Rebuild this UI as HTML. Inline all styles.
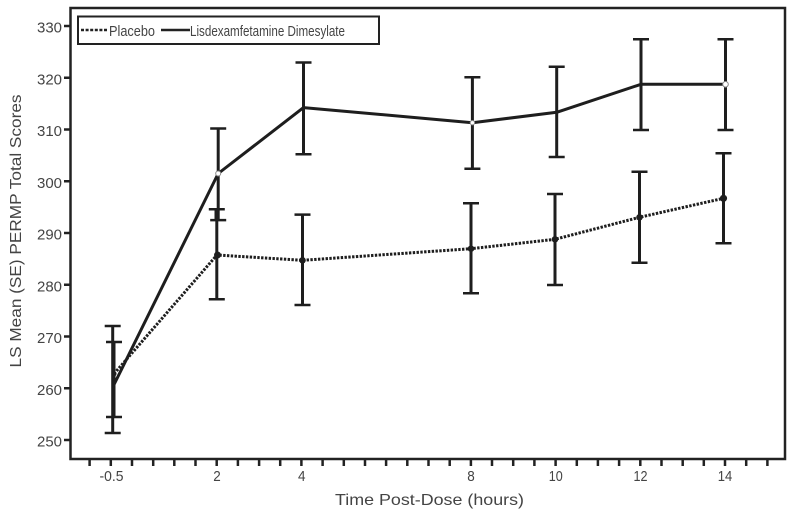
<!DOCTYPE html>
<html>
<head>
<meta charset="utf-8">
<style>
html,body{margin:0;padding:0;background:#fff;}
svg{display:block;}
text{font-family:"Liberation Sans",Arial,sans-serif;fill:#444;}
</style>
</head>
<body>
<svg width="795" height="512" viewBox="0 0 795 512" xmlns="http://www.w3.org/2000/svg">
<rect width="795" height="512" fill="#fff"/>
<!-- frame -->
<rect x="70.5" y="8" width="714.5" height="451" fill="none" stroke="#222" stroke-width="2.5"/>
<!-- y ticks -->
<g stroke="#222" stroke-width="2.5">
<line x1="64" y1="26" x2="70" y2="26"/>
<line x1="64" y1="77.75" x2="70" y2="77.75"/>
<line x1="64" y1="129.5" x2="70" y2="129.5"/>
<line x1="64" y1="181.25" x2="70" y2="181.25"/>
<line x1="64" y1="233" x2="70" y2="233"/>
<line x1="64" y1="284.75" x2="70" y2="284.75"/>
<line x1="64" y1="336.5" x2="70" y2="336.5"/>
<line x1="64" y1="388.25" x2="70" y2="388.25"/>
<line x1="64" y1="440" x2="70" y2="440"/>
</g>
<g font-size="14.5" text-anchor="end">
<text x="62" y="32.5" textLength="25" lengthAdjust="spacingAndGlyphs">330</text>
<text x="62" y="84.25" textLength="25" lengthAdjust="spacingAndGlyphs">320</text>
<text x="62" y="136" textLength="25" lengthAdjust="spacingAndGlyphs">310</text>
<text x="62" y="187.75" textLength="25" lengthAdjust="spacingAndGlyphs">300</text>
<text x="62" y="239.5" textLength="25" lengthAdjust="spacingAndGlyphs">290</text>
<text x="62" y="291.25" textLength="25" lengthAdjust="spacingAndGlyphs">280</text>
<text x="62" y="343" textLength="25" lengthAdjust="spacingAndGlyphs">270</text>
<text x="62" y="394.75" textLength="25" lengthAdjust="spacingAndGlyphs">260</text>
<text x="62" y="446.5" textLength="25" lengthAdjust="spacingAndGlyphs">250</text>
</g>
<!-- x ticks -->
<g stroke="#222" stroke-width="2.5">
<line x1="89.6" y1="459" x2="89.6" y2="466"/>
<line x1="110.8" y1="459" x2="110.8" y2="466"/>
<line x1="132.0" y1="459" x2="132.0" y2="466"/>
<line x1="153.2" y1="459" x2="153.2" y2="466"/>
<line x1="174.3" y1="459" x2="174.3" y2="466"/>
<line x1="195.5" y1="459" x2="195.5" y2="466"/>
<line x1="216.7" y1="459" x2="216.7" y2="466"/>
<line x1="237.9" y1="459" x2="237.9" y2="466"/>
<line x1="259.1" y1="459" x2="259.1" y2="466"/>
<line x1="280.2" y1="459" x2="280.2" y2="466"/>
<line x1="301.4" y1="459" x2="301.4" y2="466"/>
<line x1="322.6" y1="459" x2="322.6" y2="466"/>
<line x1="343.8" y1="459" x2="343.8" y2="466"/>
<line x1="365.0" y1="459" x2="365.0" y2="466"/>
<line x1="386.1" y1="459" x2="386.1" y2="466"/>
<line x1="407.3" y1="459" x2="407.3" y2="466"/>
<line x1="428.5" y1="459" x2="428.5" y2="466"/>
<line x1="449.7" y1="459" x2="449.7" y2="466"/>
<line x1="470.9" y1="459" x2="470.9" y2="466"/>
<line x1="492.0" y1="459" x2="492.0" y2="466"/>
<line x1="513.2" y1="459" x2="513.2" y2="466"/>
<line x1="534.4" y1="459" x2="534.4" y2="466"/>
<line x1="555.6" y1="459" x2="555.6" y2="466"/>
<line x1="576.8" y1="459" x2="576.8" y2="466"/>
<line x1="597.9" y1="459" x2="597.9" y2="466"/>
<line x1="619.1" y1="459" x2="619.1" y2="466"/>
<line x1="640.3" y1="459" x2="640.3" y2="466"/>
<line x1="661.5" y1="459" x2="661.5" y2="466"/>
<line x1="682.7" y1="459" x2="682.7" y2="466"/>
<line x1="703.8" y1="459" x2="703.8" y2="466"/>
<line x1="725.0" y1="459" x2="725.0" y2="466"/>
<line x1="746.2" y1="459" x2="746.2" y2="466"/>
<line x1="767.4" y1="459" x2="767.4" y2="466"/>
</g>
<g font-size="15" text-anchor="middle">
<text x="111.5" y="481" textLength="24" lengthAdjust="spacingAndGlyphs">-0.5</text>
<text x="217" y="481" textLength="7.5" lengthAdjust="spacingAndGlyphs">2</text>
<text x="301.7" y="481" textLength="7.5" lengthAdjust="spacingAndGlyphs">4</text>
<text x="471" y="481" textLength="7.5" lengthAdjust="spacingAndGlyphs">8</text>
<text x="555.8" y="481" textLength="14" lengthAdjust="spacingAndGlyphs">10</text>
<text x="640.5" y="481" textLength="14" lengthAdjust="spacingAndGlyphs">12</text>
<text x="725" y="481" textLength="14.5" lengthAdjust="spacingAndGlyphs">14</text>
</g>
<!-- axis titles -->
<text x="335" y="505" font-size="16" textLength="189" lengthAdjust="spacingAndGlyphs">Time Post-Dose (hours)</text>
<text transform="translate(21,231) rotate(-90)" font-size="16" text-anchor="middle" textLength="273" lengthAdjust="spacingAndGlyphs">LS Mean (SE) PERMP Total Scores</text>
<!-- legend -->
<rect x="78" y="16.5" width="301" height="27.5" fill="#fff" stroke="#222" stroke-width="2"/>
<line x1="81" y1="30" x2="108" y2="30" stroke="#222" stroke-width="2.5" stroke-dasharray="3 1.6"/>
<text x="109" y="36" font-size="15" fill="#333" textLength="46" lengthAdjust="spacingAndGlyphs">Placebo</text>
<line x1="161" y1="30" x2="190" y2="30" stroke="#222" stroke-width="2.5"/>
<text x="190" y="36" font-size="15" fill="#333" textLength="155" lengthAdjust="spacingAndGlyphs">Lisdexamfetamine Dimesylate</text>
<!-- error bars: vertical -->
<g stroke="#1e1e1e" stroke-width="3" fill="none">
<path d="M112.7 326 V433"/>
<path d="M114 342 V417"/>
<path d="M218.2 128.5 V220.1"/>
<path d="M303.5 62.5 V154.3"/>
<path d="M472.4 77.3 V168.7"/>
<path d="M556.7 66.7 V157"/>
<path d="M641 39.3 V130"/>
<path d="M725.5 39.3 V130"/>
<path d="M216.8 209.3 V299.3"/>
<path d="M302.5 214.6 V305"/>
<path d="M471 203.3 V293.3"/>
<path d="M555 194 V285"/>
<path d="M639.5 171.7 V262.7"/>
<path d="M723.5 153.3 V243.3"/>
</g>
<!-- error bar caps -->
<g stroke="#1e1e1e" stroke-width="2.5" fill="none">
<path d="M104.7 326 H120.7 M104.7 433 H120.7"/>
<path d="M106 342 H122 M106 417 H122"/>
<path d="M210.2 128.5 H226.2 M210.2 220.1 H226.2"/>
<path d="M295.5 62.5 H311.5 M295.5 154.3 H311.5"/>
<path d="M464.4 77.3 H480.4 M464.4 168.7 H480.4"/>
<path d="M548.7 66.7 H564.7 M548.7 157 H564.7"/>
<path d="M633 39.3 H649 M633 130 H649"/>
<path d="M717.5 39.3 H733.5 M717.5 130 H733.5"/>
<path d="M208.8 209.3 H224.8 M208.8 299.3 H224.8"/>
<path d="M294.5 214.6 H310.5 M294.5 305 H310.5"/>
<path d="M463 203.3 H479 M463 293.3 H479"/>
<path d="M547 194 H563 M547 285 H563"/>
<path d="M631.5 171.7 H647.5 M631.5 262.7 H647.5"/>
<path d="M715.5 153.3 H731.5 M715.5 243.3 H731.5"/>
</g>
<!-- thick overlap at 2 -->
<rect x="214.5" y="209" width="5" height="11" fill="#1e1e1e"/>
<!-- lines -->
<polyline points="114,384.6 218.2,173.5 303.5,107.6 472.4,122.7 556.7,112.3 641,84.3 725.5,84.3" fill="none" stroke="#1e1e1e" stroke-width="3" stroke-linejoin="round"/>
<polyline points="114,373.8 217,255 302.5,260.3 471,248.7 555,239.3 639.5,217.3 723.5,198.3" fill="none" stroke="#1e1e1e" stroke-width="3" stroke-dasharray="2.4 1.4"/>
<!-- markers -->
<g fill="#1e1e1e">
<circle cx="114" cy="373.8" r="2.5"/>
<circle cx="217.5" cy="255" r="3.5"/>
<circle cx="302.5" cy="260.3" r="3.3"/>
<circle cx="471" cy="248.7" r="3.3"/>
<circle cx="555" cy="239.3" r="3.3"/>
<circle cx="639.5" cy="217.3" r="3.3"/>
<circle cx="723.5" cy="198.3" r="3.6"/>
</g>
<g fill="#fff" stroke="#888" stroke-width="1">
<circle cx="218.2" cy="173.5" r="2.5"/>
<circle cx="472.4" cy="122.7" r="2.2"/>
<circle cx="725.5" cy="84.3" r="2.8"/>
</g>
</svg>
</body>
</html>
